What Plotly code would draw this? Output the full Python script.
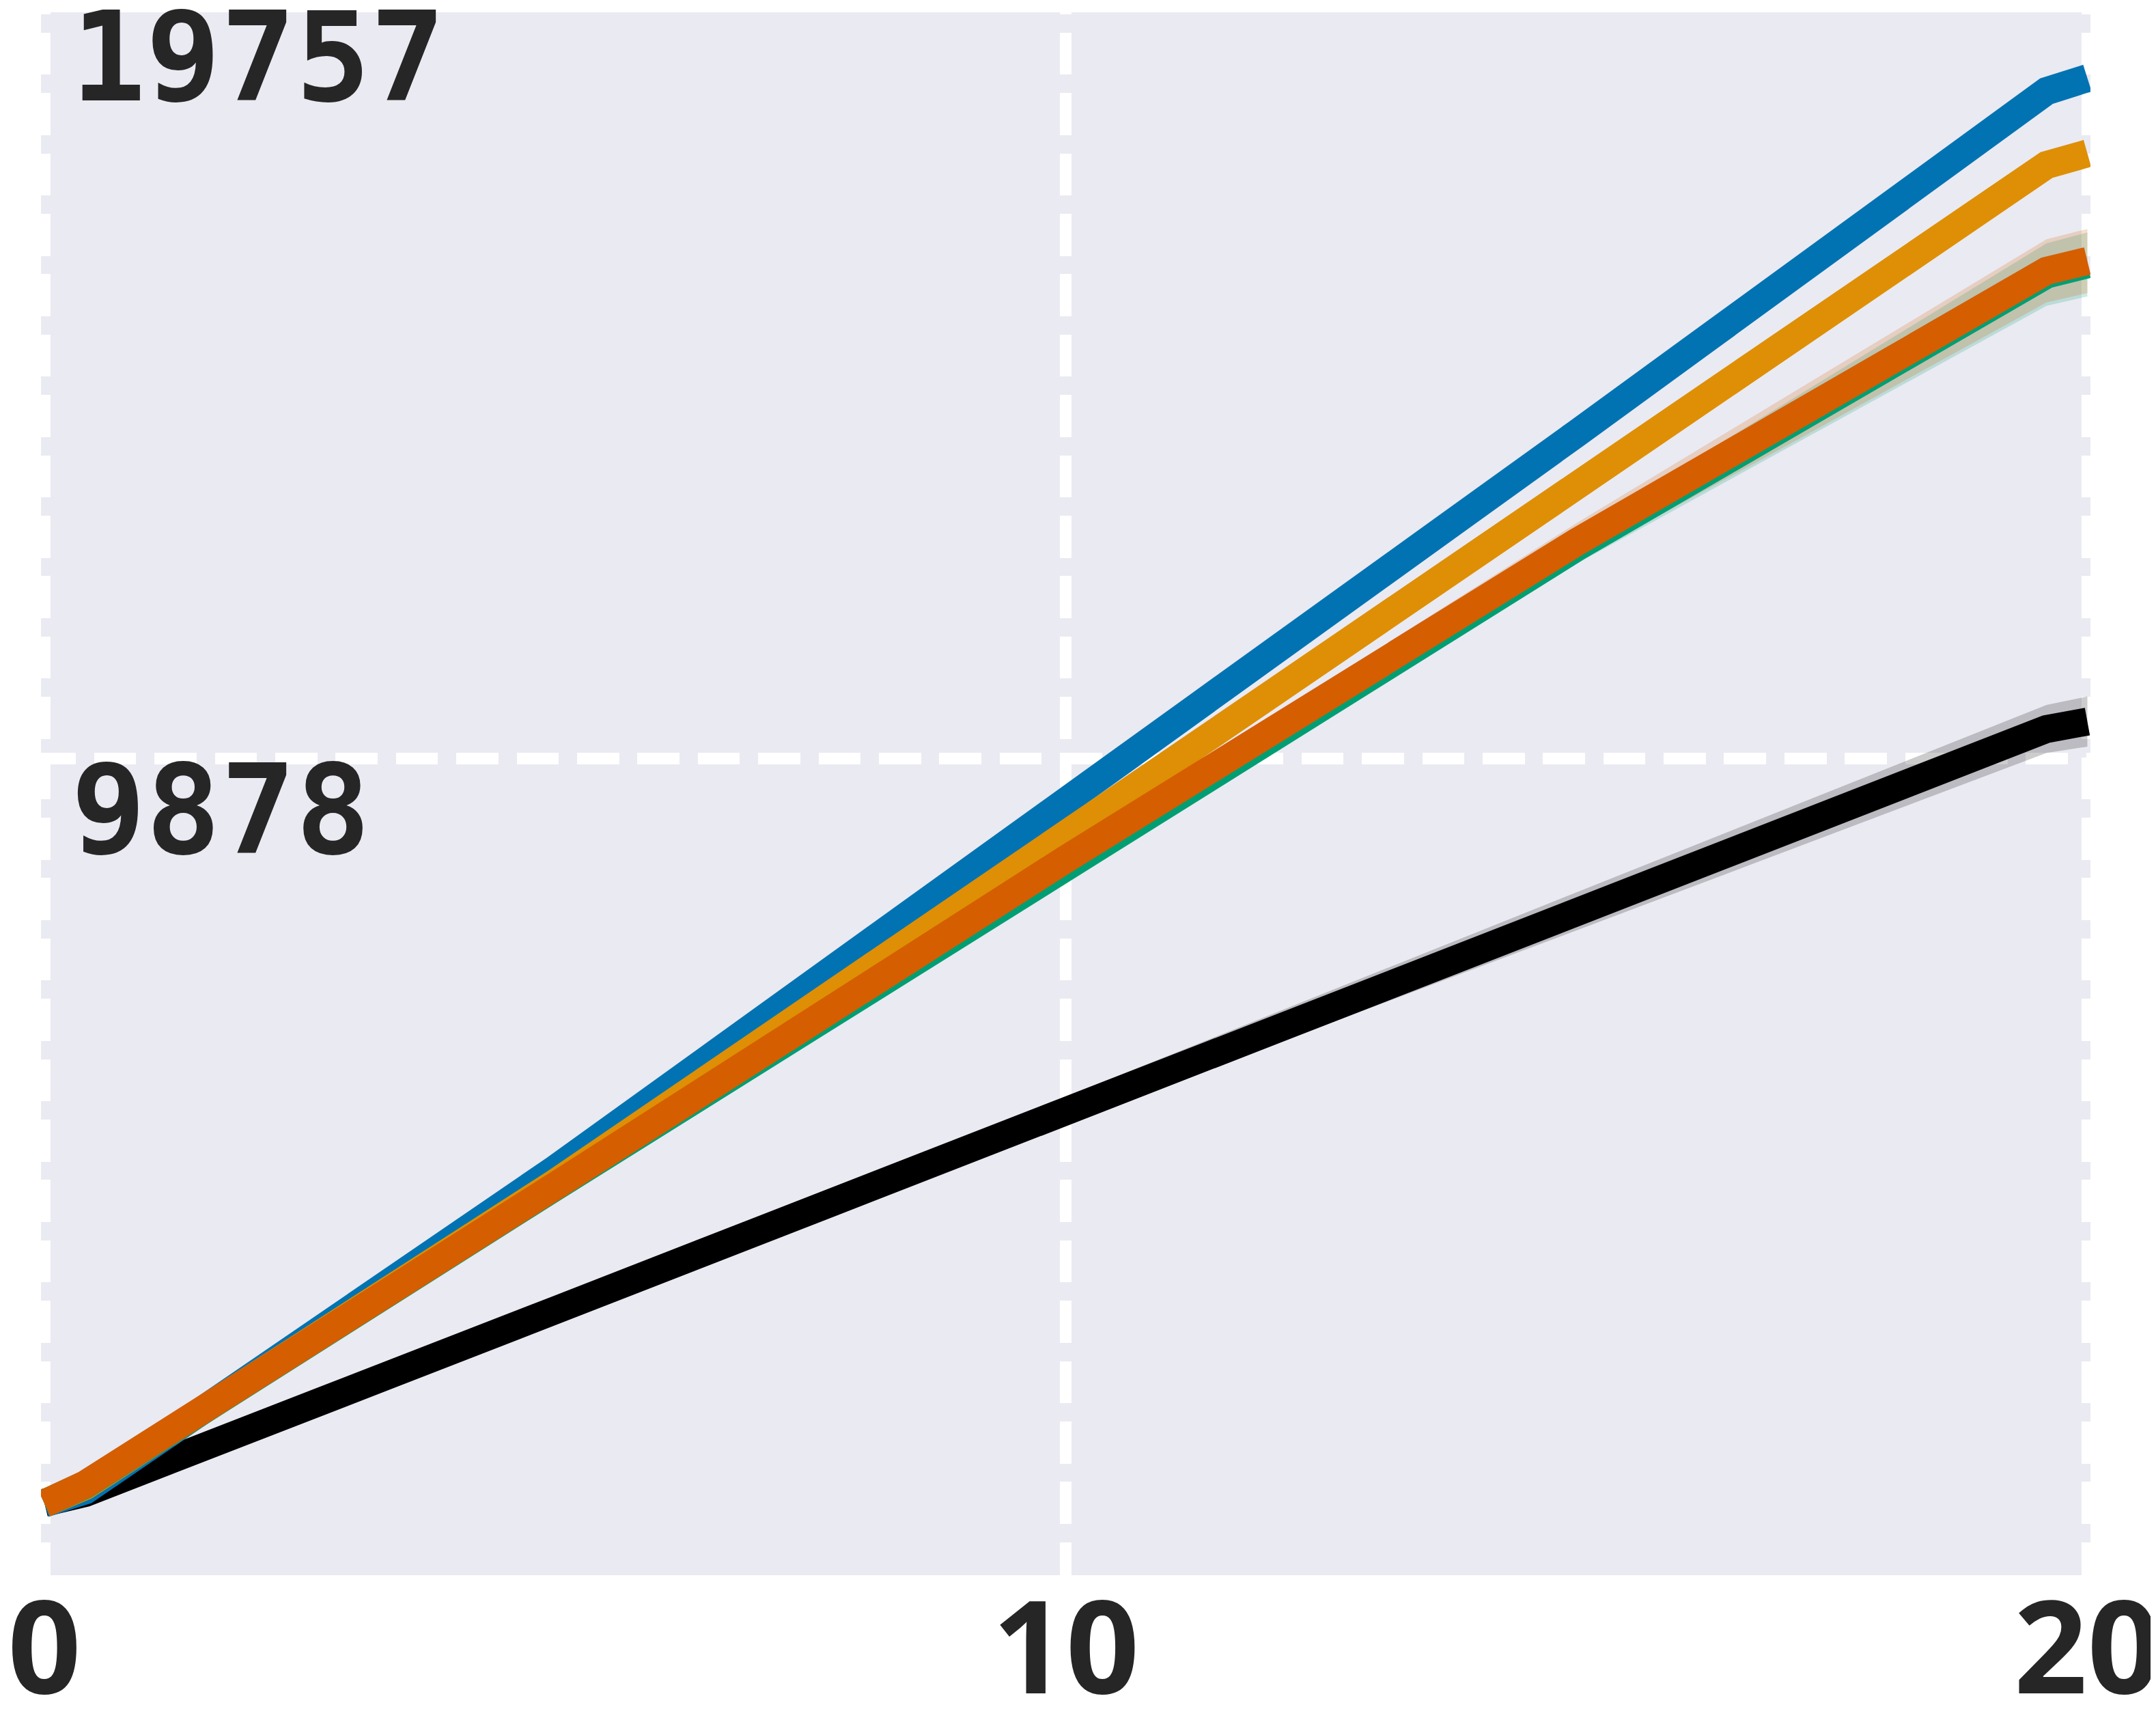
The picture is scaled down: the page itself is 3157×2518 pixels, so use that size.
import plotly.graph_objects as go

# x positions of the samples along each curve
steps = [0, 0.4, 5, 10, 15, 19.6, 20]

# mean curves
blue_vals = [100, 270, 4490, 9292, 14146, 18640, 18810]
orange_vals = [100, 330, 4308, 8880, 13521, 17670, 17822]
red_vals = [100, 350, 4266, 8558, 12720, 16280, 16410]
teal_vals = [100, 345, 4255, 8490, 12650, 16232, 16365]
black_vals = [110, 238, 2635, 5270, 7873, 10266, 10364]

# half widths of the shaded bands
red_err = [0, 20, 75, 160, 250, 415, 420]
teal_err = [0, 20, 70, 150, 215, 410, 420]
black_err = [0, 10, 70, 170, 250, 315, 330]

x_ticks = [0, 10, 20]
y_grid = [9878]
y_label_mid = "9878"
y_label_top = "19757"

BG = "#EAEAF2"
TEXT = "#262626"
LINE_W = 41
LABEL_FONT = dict(family="DejaVu Sans Mono", size=182, color=TEXT, weight="bold")


def band(xs, vals, err, color):
    upper = [v + e for v, e in zip(vals, err)]
    lower = [v - e for v, e in zip(vals, err)]
    return go.Scatter(
        x=xs + xs[::-1],
        y=upper + lower[::-1],
        fill="toself",
        fillcolor=color,
        line=dict(width=0),
        mode="lines",
        hoverinfo="skip",
        showlegend=False,
    )


def curve(xs, vals, color, width=LINE_W):
    return go.Scatter(
        x=xs,
        y=vals,
        mode="lines",
        line=dict(color=color, width=width),
        showlegend=False,
    )


fig = go.Figure()

fig.add_trace(band(steps, black_vals, black_err, "rgba(0,0,0,0.2)"))
fig.add_trace(band(steps, teal_vals, teal_err, "rgba(2,158,115,0.2)"))
fig.add_trace(band(steps, red_vals, red_err, "rgba(213,94,0,0.2)"))

fig.add_trace(curve(steps, black_vals, "#000000"))
fig.add_trace(curve(steps, blue_vals, "#0173B2"))
fig.add_trace(curve(steps, orange_vals, "#DE8F05"))
fig.add_trace(curve(steps, teal_vals, "#029E73"))
fig.add_trace(curve(steps, red_vals, "#D55E00"))

# y labels sit just under their grid line, inside the plot
fig.add_annotation(
    x=0.014, xref="paper", xanchor="left",
    y=y_grid[0], yref="y", yanchor="top", yshift=33,
    text=y_label_mid, showarrow=False, font=LABEL_FONT,
)
# the top value lies on the upper edge of the plot
fig.add_annotation(
    x=0.014, xref="paper", xanchor="left",
    y=1, yref="paper", yanchor="top", yshift=42,
    text=y_label_top, showarrow=False, font=LABEL_FONT,
)

fig.update_layout(
    width=3157,
    height=2518,
    margin=dict(l=52, r=104, t=10, b=220),
    paper_bgcolor="white",
    plot_bgcolor=BG,
    showlegend=False,
)

fig.update_xaxes(
    range=[-0.0334, 20.03],
    tickvals=x_ticks,
    ticks="",
    showline=False,
    zeroline=False,
    automargin=False,
    ticklabeloverflow="allow",
    ticklabelstandoff=-16,
    showgrid=True,
    gridcolor="white",
    gridwidth=17,
    griddash="3px,26.7px,61.7px,26.7px,58.7px,0px",
    tickfont=dict(family="Open Sans", size=188, color=TEXT, weight="bold"),
)

fig.update_yaxes(
    range=[-842, 19674.5],
    tickvals=y_grid,
    showticklabels=False,
    ticks="",
    showline=False,
    zeroline=False,
    automargin=False,
    showgrid=True,
    gridcolor="white",
    gridwidth=17,
    griddash="51px,26.7px,61.7px,26.7px,10.7px,0px",
)

fig.write_html("out.html")
